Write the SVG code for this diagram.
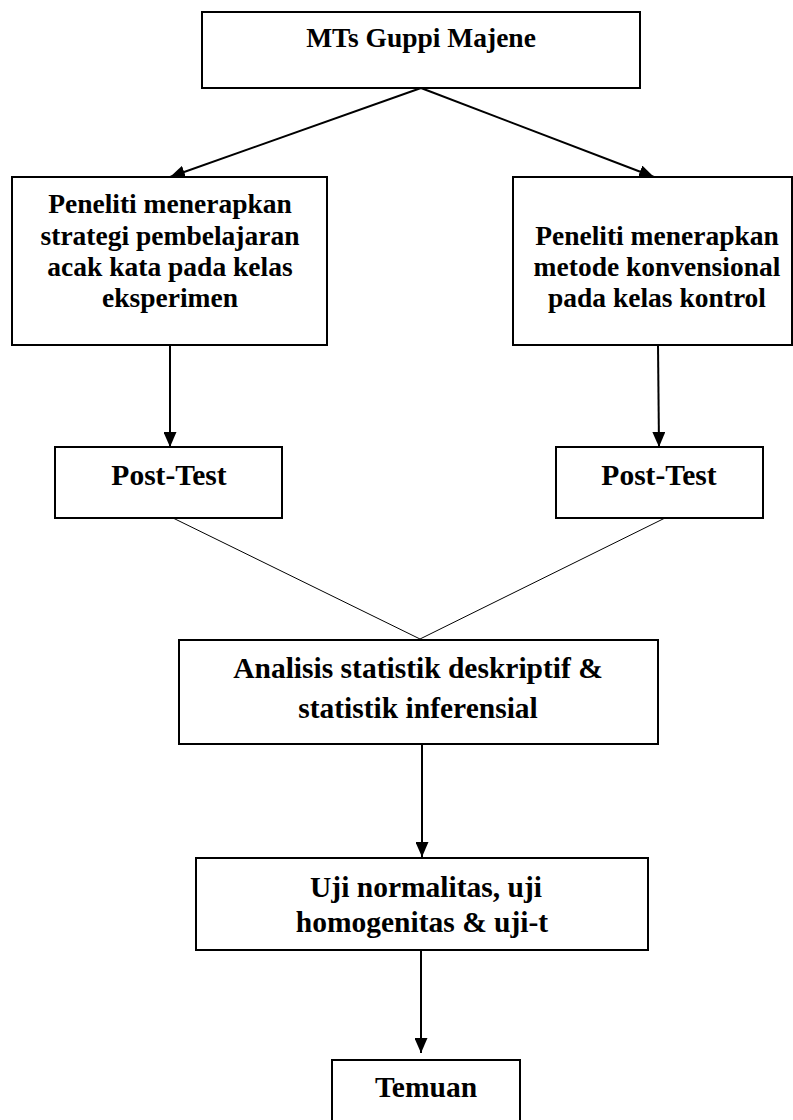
<svg xmlns="http://www.w3.org/2000/svg" width="793" height="1120" viewBox="0 0 793 1120">
<style>
.box{fill:#fff;stroke:#000;stroke-width:2}
.t{font-family:"Liberation Serif","Times New Roman",serif;font-weight:bold;fill:#000;text-anchor:middle}
.s{font-size:27.5px}
.l{font-size:29.5px}
.arr{stroke:#000;stroke-width:2;fill:none;marker-end:url(#ah)}
.thin{stroke:#000;stroke-width:1;fill:none}
</style>
<defs>
<marker id="ah" markerUnits="userSpaceOnUse" markerWidth="15" markerHeight="13" refX="15" refY="6.5" orient="auto">
<path d="M0,0 L15,6.5 L0,13 z" fill="#000"/>
</marker>
</defs>
<rect width="793" height="1120" fill="#fff"/>
<g id="connectors">
<line class="arr" x1="421" y1="88" x2="170" y2="177"/>
<line class="arr" x1="421" y1="88" x2="654" y2="177"/>
<line class="arr" x1="170" y1="345" x2="170" y2="447"/>
<line class="arr" x1="658" y1="345" x2="659" y2="447"/>
<line class="thin" x1="173" y1="518" x2="420" y2="639"/>
<line class="thin" x1="665" y1="518" x2="420" y2="639"/>
<line class="arr" x1="422" y1="744" x2="422" y2="857"/>
<line class="arr" x1="421" y1="950" x2="421" y2="1053"/>
</g>
<g id="n-mts">
<rect class="box" x="202" y="12" width="438" height="76"/>
<text class="t s" x="421" y="47">MTs Guppi Majene</text>
</g>
<g id="n-eksperimen">
<rect class="box" x="12" y="177" width="315" height="168"/>
<text class="t s" x="170" y="213">Peneliti menerapkan</text>
<text class="t s" x="170" y="244.5">strategi pembelajaran</text>
<text class="t s" x="170" y="276">acak kata pada kelas</text>
<text class="t s" x="170" y="307">eksperimen</text>
</g>
<g id="n-kontrol">
<rect class="box" x="513" y="177" width="279" height="168"/>
<text class="t s" x="657" y="244.5">Peneliti menerapkan</text>
<text class="t s" x="657" y="276">metode konvensional</text>
<text class="t s" x="657" y="307">pada kelas kontrol</text>
</g>
<g id="n-post1">
<rect class="box" x="55" y="447" width="227" height="71"/>
<text class="t l" x="169" y="485">Post-Test</text>
</g>
<g id="n-post2">
<rect class="box" x="556" y="447" width="207" height="71"/>
<text class="t l" x="659" y="485">Post-Test</text>
</g>
<g id="n-analisis">
<rect class="box" x="179" y="640" width="479" height="104"/>
<text class="t l" x="418" y="678">Analisis statistik deskriptif &amp;</text>
<text class="t l" x="418" y="718">statistik inferensial</text>
</g>
<g id="n-uji">
<rect class="box" x="196" y="858" width="452" height="92"/>
<text class="t l" x="426" y="897">Uji normalitas, uji</text>
<text class="t l" x="422" y="932">homogenitas &amp; uji-t</text>
</g>
<g id="n-temuan">
<rect class="box" x="332" y="1060" width="188" height="70"/>
<text class="t l" x="426" y="1097">Temuan</text>
</g>
</svg>
